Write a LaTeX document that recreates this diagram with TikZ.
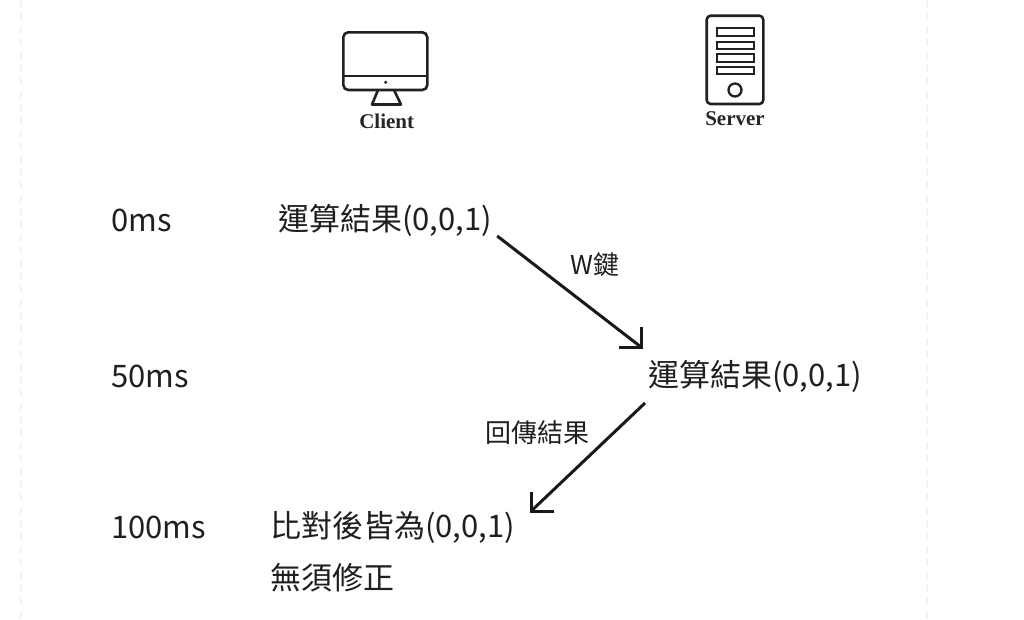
\documentclass[tikz,border=0pt]{standalone}
\usepackage{fontspec}
\setmainfont{Noto Sans CJK TC}
\newfontfamily\iconfont{Liberation Serif}
\usetikzlibrary{calc}
\begin{document}
\begin{tikzpicture}[x=1pt,y=-1pt,
  txt/.style={anchor=west,inner sep=0pt,text=black!88,font=\fontsize{31}{37}\selectfont},
  small/.style={anchor=west,inner sep=0pt,text=black!88,font=\fontsize{26}{31}\selectfont},
  iconlabel/.style={inner sep=0pt,text=black!85,font=\iconfont\bfseries\fontsize{21}{25}\selectfont},
  icon/.style={draw=black!87,line width=2.6pt},
  conn/.style={draw=black!90,line width=3pt,line join=miter},
  guide/.style={draw=black!5,line width=1.2pt,dash pattern=on 7pt off 6pt}]
\useasboundingbox (0,0) rectangle (1024,619);
\fill[white] (0,0) rectangle (1024,619);
% faint guide lines
\draw[guide] (21,0) -- (21,619);
\draw[guide] (927,0) -- (927,619);
% client icon
\draw[icon,rounded corners=5pt] (343.3,32.3) rectangle (427.3,90);
\draw[icon] (343.3,76) -- (427.3,76);
\fill[black!87] (385.7,82.3) circle (1.7);
\draw[icon,line join=round] (378,90) -- (372,104.5) -- (401,104.5) -- (394,90);
\node[iconlabel] (client) at (386.7,121.7) {Client};
% server icon
\draw[icon,rounded corners=4pt] (706.7,15.7) rectangle (763.3,104);
\foreach \ya/\yb in {28.3/36,41.7/49.3,54/61.7,66.7/74}
  \draw[icon,line width=2.3pt] (716.7,\ya) rectangle (754,\yb);
\draw[icon,line width=2.3pt] (735,90) circle (6.5);
\node[iconlabel] (server) at (735,118.3) {Server};
% time labels
\node[txt] (t0) at (111,220) {0ms};
\node[txt] (t50) at (111,376) {50ms};
\node[txt] (t100) at (111,527) {100ms};
% states
\node[txt] (c0) at (278,220) {運算結果(0,0,1)};
\node[txt] (s50) at (648,376) {運算結果(0,0,1)};
\node[txt] (c100a) at (270,527) {比對後皆為(0,0,1)};
\node[txt] (c100b) at (270,578) {無須修正};
% message labels
\node[small] (wkey) at (570,265) {W鍵};
\node[small] (ret) at (485,433) {回傳結果};
% connectors
\coordinate (a1s) at ($(c0.east)+(5,16)$);
\coordinate (a1e) at ($(s50.west)+(-7,-29)$);
\coordinate (a2s) at ($(s50.west)+(-3,27)$);
\coordinate (a2e) at ($(c100a.east)+(16,-16)$);
\draw[conn] (a1s) -- (a1e);
\draw[conn] ($(a1e)+(-22,0)$) -- (a1e) -- ($(a1e)+(0,-20)$);
\draw[conn] (a2s) -- (a2e);
\draw[conn] ($(a2e)+(23,0)$) -- (a2e) -- ($(a2e)+(0,-19)$);
\end{tikzpicture}
\end{document}
